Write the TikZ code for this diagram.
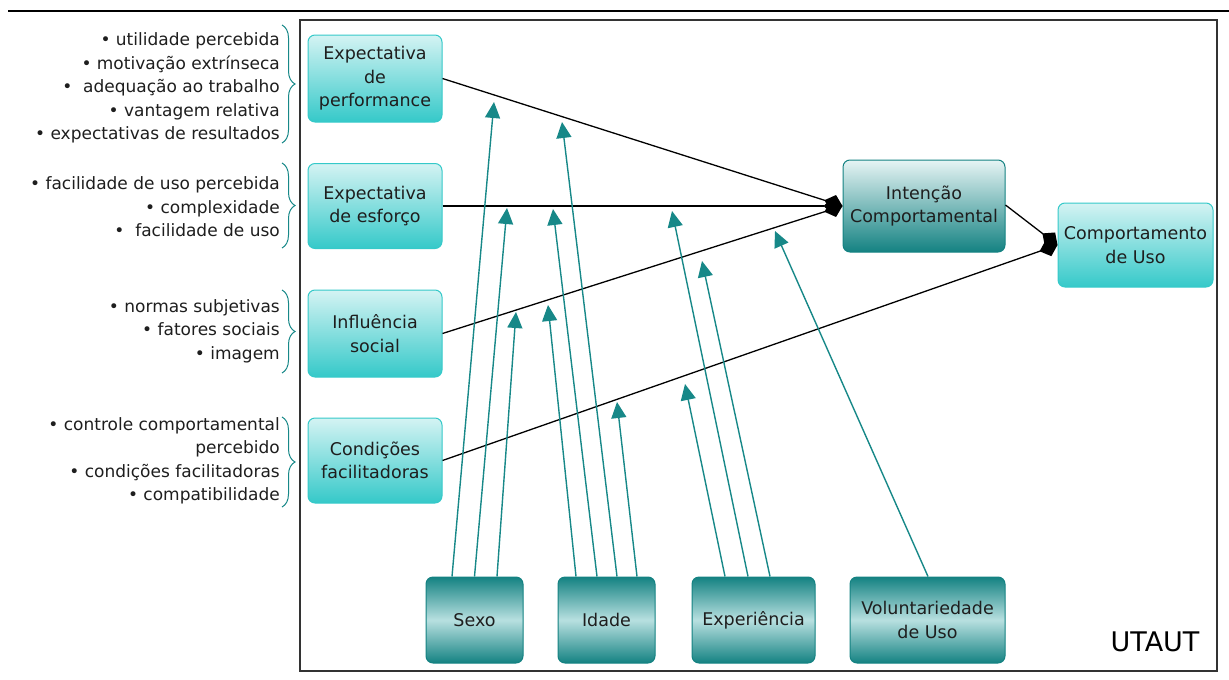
\documentclass[tikz,border=0pt]{standalone}
\usepackage{fontspec}
\setmainfont{DejaVu Sans}
\usetikzlibrary{arrows.meta,decorations.pathreplacing,calc}
\definecolor{tealD}{HTML}{148282}
\definecolor{tealL}{HTML}{D4F3F3}
\definecolor{tealM}{HTML}{35C9C9}
\definecolor{tealE}{HTML}{E6F4F4}
\definecolor{tealB}{HTML}{B8E0E0}
\definecolor{arrowteal}{HTML}{178888}
\definecolor{txt}{HTML}{1E1E1E}
\definecolor{frameg}{HTML}{333333}
\begin{document}
\begin{tikzpicture}[x=1pt,y=-1pt,
  box/.style={rounded corners=7pt, line width=1pt, align=center, text=txt, inner sep=0pt, font=\fontsize{17.5}{23.5}\selectfont},
  lightbox/.style={box, draw=tealM, top color=tealL, bottom color=tealM},
  intbox/.style={box, draw=tealD, top color=tealE, bottom color=tealD},
  modbox/.style={box, draw=tealD, top color=tealD, bottom color=tealD, middle color=tealB},
  link/.style={draw=black, line width=1.3pt, -{Diamond[length=19pt,width=17pt]}},
  mod/.style={draw=arrowteal, line width=1.4pt, -{Triangle[length=16pt,width=15pt]}},
  list/.style={anchor=east, align=right, text=txt, inner sep=0pt, font=\fontsize{17}{23.5}\selectfont},
  brc/.style={draw=arrowteal, line width=1pt, decorate, decoration={brace, amplitude=13pt}}]
\useasboundingbox (0,0) rectangle (1229,680);

% top rule and frame
\coordinate (ruleL) at (8,11);
\coordinate (ruleR) at (1229,11);
\draw[line width=2pt] (ruleL) -- (ruleR);
\draw[draw=frameg, line width=1.6pt] (300,20) rectangle (1217,671);

% boxes
\node[lightbox, minimum width=134pt, minimum height=87pt] (perf) at (375,78.5) {Expectativa\\de\\performance};
\node[lightbox, minimum width=134pt, minimum height=85pt] (esf) at (375,206) {Expectativa\\de esforço};
\node[lightbox, minimum width=134pt, minimum height=87pt] (inf) at (375,333.5) {Influência\\social};
\node[lightbox, minimum width=134pt, minimum height=85pt] (cond) at (375,460.5) {Condições\\facilitadoras};
\node[intbox, minimum width=162pt, minimum height=92pt] (int) at (924,206) {Intenção\\Comportamental};
\node[lightbox, minimum width=155pt, minimum height=84pt] (uso) at (1135.5,245) {Comportamento\\de Uso};
\node[modbox, minimum width=97pt, minimum height=86pt] (sexo) at (474.5,620) {Sexo};
\node[modbox, minimum width=97pt, minimum height=86pt] (idade) at (606.5,620) {Idade};
\node[modbox, minimum width=123pt, minimum height=86pt] (exp) at (753.5,620) {Experiência};
\node[modbox, minimum width=155pt, minimum height=86pt] (vol) at (927.5,620) {Voluntariedade\\de Uso};
\node[anchor=center, text=black, inner sep=0pt, font=\fontsize{27}{30}\selectfont] (utaut) at (1155,642) {UTAUT};

% main links
\draw[link] (perf.east) -- (int.west);
\draw[link] (esf.east) -- (int.west);
\draw[link] (inf.east) -- (int.west);
\draw[link] (cond.east) -- (uso.west);
\draw[link] ($(int.east)+(0,-1)$) -- (uso.west);

% moderator tips
\coordinate (t1) at (494,102);
\coordinate (t2) at (507,208);
\coordinate (t3) at (516,312);
\coordinate (t4) at (548,305);
\coordinate (t5) at (553,209);
\coordinate (t6) at (562,122);
\coordinate (t7) at (617,402);
\coordinate (t8) at (685,384);
\coordinate (t9) at (672,211);
\coordinate (t10) at (702,261);
\coordinate (t11) at (775,231);

\draw[mod] ($(sexo.north)+(-22.5,0)$) -- (t1);
\draw[mod] (sexo.north) -- (t2);
\draw[mod] ($(sexo.north)+(22.5,0)$) -- (t3);
\draw[mod] ($(idade.north)+(-30.5,0)$) -- (t4);
\draw[mod] ($(idade.north)+(-9.5,0)$) -- (t5);
\draw[mod] ($(idade.north)+(10.5,0)$) -- (t6);
\draw[mod] ($(idade.north)+(30.5,0)$) -- (t7);
\draw[mod] ($(exp.north)+(-28.5,0)$) -- (t8);
\draw[mod] ($(exp.north)+(-5.5,0)$) -- (t9);
\draw[mod] ($(exp.north)+(16.5,0)$) -- (t10);
\draw[mod] ($(vol.north)+(0.5,0)$) -- (t11);

% lists with braces
\node[list] (l1) at (280,88) {• utilidade percebida\\• motivação extrínseca\\•\ \ adequação ao trabalho\\• vantagem relativa\\• expectativas de resultados};
\node[list] (l2) at (280,207) {• facilidade de uso percebida\\• complexidade\\•\ \ facilidade de uso\ };
\node[list] (l3) at (280,331) {• normas subjetivas\\• fatores sociais\\• imagem};
\node[list] (l4) at (280,461) {• controle comportamental\ \\percebido\\• condições facilitadoras\ \\• compatibilidade};

\coordinate (b1a) at (282,25);  \coordinate (b1b) at (282,143);
\coordinate (b2a) at (282,163); \coordinate (b2b) at (282,248);
\coordinate (b3a) at (282,290); \coordinate (b3b) at (282,373);
\coordinate (b4a) at (282,417); \coordinate (b4b) at (282,507);
\draw[brc] (b1a) -- (b1b);
\draw[brc] (b2a) -- (b2b);
\draw[brc] (b3a) -- (b3b);
\draw[brc] (b4a) -- (b4b);
\end{tikzpicture}
\end{document}
